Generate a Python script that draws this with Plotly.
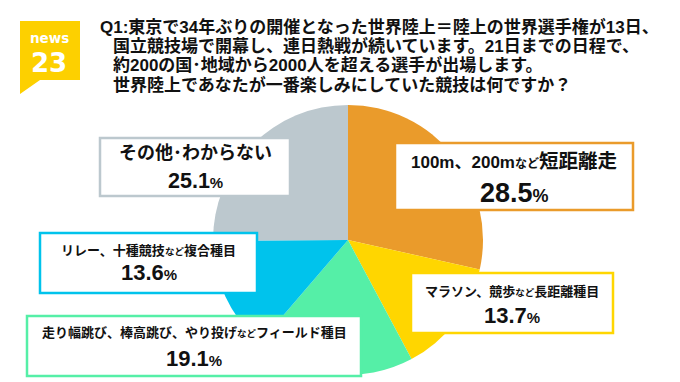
import plotly.graph_objects as go

# ---- data ----
categories = [
    "100m、200mなど短距離走",
    "マラソン、競歩など長距離種目",
    "走り幅跳び、棒高跳び、やり投げなどフィールド種目",
    "リレー、十種競技など複合種目",
    "その他･わからない",
]
values = [28.5, 13.7, 19.1, 13.6, 25.1]
colors = ["#EA9B2B", "#FFD600", "#55EFA7", "#00C3EC", "#BCC8CE"]
title_lines = [
    "Q1:東京で34年ぶりの開催となった世界陸上＝陸上の世界選手権が13日、",
    "国立競技場で開幕し、連日熱戦が続いています。21日までの日程で、",
    "約200の国･地域から2000人を超える選手が出場します。",
    "世界陸上であなたが一番楽しみにしていた競技は何ですか？",
]
logo_text = ["news", "23"]

FONT = "Liberation Sans, Arial, Noto Sans CJK JP, sans-serif"
W, H = 680, 382

fig = go.Figure()

# pie centred at (340,232) px, radius 135 px
cx, cy, r = 340, 232, 135
fig.add_trace(go.Pie(
    labels=categories, values=values, sort=False, direction="clockwise",
    rotation=0, marker=dict(colors=colors, line=dict(width=0)),
    textinfo="none", hoverinfo="label+percent", showlegend=False,
    domain=dict(x=[(cx - r) / W, (cx + r) / W], y=[(H - cy - r) / H, (H - cy + r) / H]),
))

shapes = []
annotations = []

# logo
shapes.append(dict(type="path", xref="x", yref="y",
                   path="M 12 13 L 72 13 L 72 72 L 32 72 L 12 86 Z",
                   fillcolor="#FDD000", line=dict(width=0), layer="above"))
annotations.append(dict(x=41, y=30, xref="x", yref="y", text=f"<b>{logo_text[0]}</b>",
                        showarrow=False, borderpad=0,
                        font=dict(family="DejaVu Sans", size=13.5, color="white"),
                        xanchor="center", yanchor="middle"))
annotations.append(dict(x=41, y=55, xref="x", yref="y", text=f"<b>{logo_text[1]}</b>",
                        showarrow=False, borderpad=0,
                        font=dict(family="DejaVu Sans", size=26, color="white"),
                        xanchor="center", yanchor="middle"))

# title
title_x = [90, 103, 103, 103]
title_y = [19, 38, 57, 77]
for t, xx, yy in zip(title_lines, title_x, title_y):
    annotations.append(dict(x=xx, y=yy, xref="x", yref="y", text="<b>" + t + "</b>",
                            showarrow=False, xanchor="left", yanchor="middle",
                            font=dict(family=FONT, size=17, color="#111")))

# label boxes: (x0, y0, x1, y1, line1_y, line1_size, nado_size, line2_y, num_size, pct_size, big_tail)
boxes = [
    (387, 135, 625, 202, 153, 17, 12, 185, 27, 18, 19.5),
    (403, 265, 605, 325, 283, 13, 9.5, 307, 22, 15, None),
    (19, 308, 353, 368, 324, 13, 9.5, 350, 22, 15, None),
    (32, 225, 249, 285, 242, 13, 9.5, 264, 22, 15, None),
    (92, 130, 282, 188, 145, 18, 12, 173, 21.5, 15, None),
]

for cat, val, col, b in zip(categories, values, colors, boxes):
    x0, y0, x1, y1, l1y, s1, sn, l2y, sv, sp, tail = b
    shapes.append(dict(type="rect", xref="x", yref="y", x0=x0, y0=y0, x1=x1, y1=y1,
                       fillcolor="white", line=dict(color=col, width=2.5), layer="above"))
    if "など" in cat:
        pre, post = cat.split("など")
        if tail:
            post_txt = f"<span style='font-size:{tail}px'>{post}</span>"
        else:
            post_txt = post
        line1 = f"{pre}<span style='font-size:{sn}px'>など</span>{post_txt}"
    else:
        line1 = cat
    xc = (x0 + x1) / 2
    annotations.append(dict(x=xc, y=l1y, xref="x", yref="y", text="<b>" + line1 + "</b>",
                            showarrow=False, xanchor="center", yanchor="middle",
                            font=dict(family=FONT, size=s1, color="#111")))
    line2 = f"<b>{val:.1f}<span style='font-size:{sp}px'>%</span></b>"
    annotations.append(dict(x=xc, y=l2y, xref="x", yref="y", text=line2,
                            showarrow=False, xanchor="center", yanchor="middle",
                            font=dict(family=FONT, size=sv, color="#111")))

fig.update_layout(
    width=W, height=H, margin=dict(l=0, r=0, t=0, b=0),
    paper_bgcolor="white", plot_bgcolor="rgba(0,0,0,0)",
    xaxis=dict(range=[0, W], visible=False, fixedrange=True),
    yaxis=dict(range=[H, 0], visible=False, fixedrange=True),
    shapes=shapes, annotations=annotations,
)

fig.write_html("out.html")
